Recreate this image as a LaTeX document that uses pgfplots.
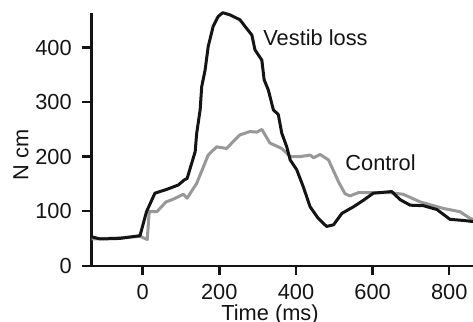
\documentclass[border=0pt]{standalone}
\usepackage{fontspec}
\setmainfont{Liberation Sans}
\usepackage{pgfplots}
\pgfplotsset{compat=1.18}
\definecolor{ctrl}{RGB}{152,152,152}
\definecolor{vest}{RGB}{20,20,20}
\begin{document}
\begin{tikzpicture}
\useasboundingbox (0,0) rectangle (236.5bp,161bp);
\begin{axis}[
  at={(45.85bp,28.15bp)}, anchor=south west,
  scale only axis, width=190.65bp, height=126.5bp,
  xmin=-133, xmax=862, ymin=0, ymax=464,
  axis x line=bottom, axis y line=left,
  axis line style={-, line width=1.2bp, color=vest},
  xtick={0,200,400,600,800}, ytick={0,100,200,300,400},
  tick align=outside, major tick length=4.8bp,
  every tick/.style={line width=1.2bp, color=vest},
  /pgf/number format/assume math mode=true,
  tick label style={font=\fontsize{10.9bp}{12bp}\selectfont, color=vest, inner sep=0pt},
  yticklabel style={xshift=-5bp},
  xticklabel style={yshift=-4.3bp},
  clip=false,
]
\addplot[ctrl, line width=1.5bp, line join=round] coordinates {
(-133,49) (-60,51) (-7,54) (12,48) (17,99) (37,99) (61,117) (80,122) (106,131) (116,124) (141,151) (171,203) (193,218) (219,215) (245,234) (254,240) (280,246) (298,245) (311,250) (332,225) (363,215) (385,200) (411,200) (437,203) (446,198) (463,204) (485,194) (511,154) (528,132) (541,128) (563,134) (646,134) (680,131) (724,117) (785,105) (828,99) (854,87) (862,85)
};
\addplot[vest, line width=1.5bp, line join=round] coordinates {
(-133,53) (-111,49) (-60,50) (-7,55) (10,99) (32,133) (63,140) (93,148) (108,157) (116,160) (128,188) (137,209) (141,243) (150,286) (154,328) (163,359) (171,402) (184,439) (197,457) (209,464) (228,460) (254,451) (267,439) (285,423) (293,396) (311,377) (317,341) (328,322) (341,286) (354,277) (363,243) (376,218) (385,194) (402,176) (419,145) (437,108) (458,87) (480,72) (498,75) (520,96) (550,108) (576,120) (602,133) (650,136) (672,121) (698,111) (733,110) (768,103) (802,85) (837,83) (862,81)
};
\node[anchor=base west, inner sep=0pt, font=\fontsize{10.9bp}{12bp}\selectfont, color=vest] at (axis cs:314,404) {Vestib loss};
\node[anchor=base west, inner sep=0pt, font=\fontsize{10.9bp}{12bp}\selectfont, color=vest] at (axis cs:528,174) {Control};
\end{axis}
\node[anchor=base, inner sep=0pt, font=\fontsize{10.9bp}{12bp}\selectfont, color=vest] at (135bp,1bp) {Time (ms)};
\node[anchor=center, rotate=90, inner sep=0pt, font=\fontsize{10.9bp}{12bp}\selectfont, color=vest] at (10.5bp,83.5bp) {N cm};
\end{tikzpicture}
\end{document}
